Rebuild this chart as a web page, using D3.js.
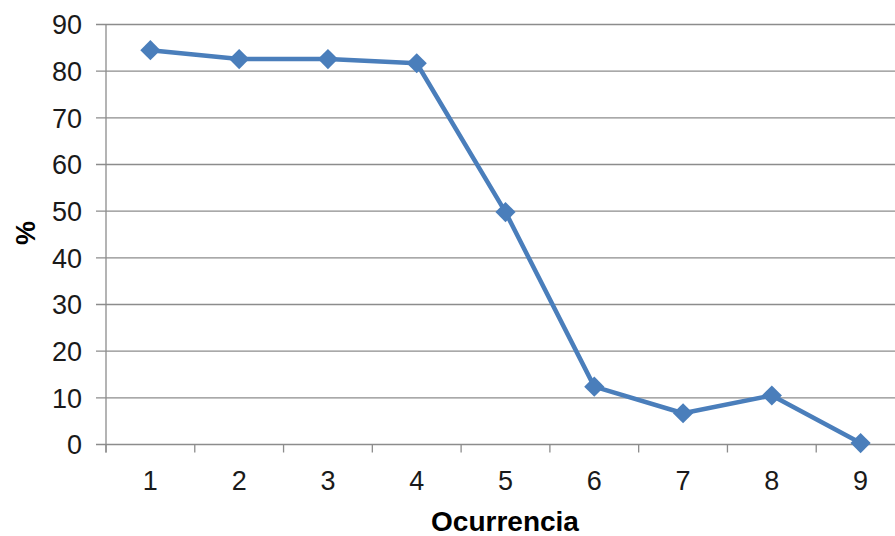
<!DOCTYPE html>
<html>
<head>
<meta charset="utf-8">
<script src="https://cdn.jsdelivr.net/npm/d3@7"></script>
<style>
  body { margin: 0; background: #fff; }
  text { font-family: "Liberation Sans", Arial, sans-serif; }
</style>
</head>
<body>
<div id="chart"></div>
<script>
const width = 895;
const height = 536;

const categories = ['1', '2', '3', '4', '5', '6', '7', '8', '9'];
const values = [84.5, 82.6, 82.6, 81.7, 49.8, 12.4, 6.7, 10.5, 0.3];
const yTicks = [0, 10, 20, 30, 40, 50, 60, 70, 80, 90];

const margin = {top: 24.5, left: 106, bottom: 91.5};
const plotRight = 905;

const svg = d3.select('#chart').append('svg')
  .attr('width', width).attr('height', height);

const x = d3.scaleBand().domain(categories).range([margin.left, plotRight]);
const y = d3.scaleLinear().domain([0, 90]).range([height - margin.bottom, margin.top]);

// gridlines + y ticks
svg.append('g')
  .selectAll('line')
  .data(yTicks)
  .enter()
  .append('line')
  .attr('x1', margin.left - 10)
  .attr('x2', plotRight)
  .attr('y1', (d) => y(d))
  .attr('y2', (d) => y(d))
  .style('stroke', '#8c8c8c')
  .style('stroke-width', '1.3px');

svg.append('g')
  .selectAll('text')
  .data(yTicks)
  .enter()
  .append('text')
  .attr('x', 82)
  .attr('y', (d) => y(d))
  .attr('dy', '0.36em')
  .attr('text-anchor', 'end')
  .style('font-size', '27px')
  .style('fill', '#1a1a1a')
  .text((d) => d);

// y axis line
svg.append('line')
  .attr('x1', margin.left).attr('x2', margin.left)
  .attr('y1', y(90)).attr('y2', y(0) + 8)
  .style('stroke', '#8c8c8c')
  .style('stroke-width', '1.3px');

// x ticks at band edges
const edges = categories.map((c) => x(c)).concat([plotRight]);
svg.append('g')
  .selectAll('line')
  .data(edges)
  .enter()
  .append('line')
  .attr('x1', (d) => d).attr('x2', (d) => d)
  .attr('y1', y(0)).attr('y2', y(0) + 8)
  .style('stroke', '#8c8c8c')
  .style('stroke-width', '1.3px');

svg.append('g')
  .selectAll('text')
  .data(categories)
  .enter()
  .append('text')
  .attr('x', (d) => x(d) + x.bandwidth() / 2)
  .attr('y', 490)
  .attr('text-anchor', 'middle')
  .style('font-size', '27px')
  .style('fill', '#1a1a1a')
  .text((d) => d);

// axis titles
svg.append('text')
  .attr('x', 505).attr('y', 531)
  .attr('text-anchor', 'middle')
  .style('font-size', '28px')
  .style('font-weight', 'bold')
  .text('Ocurrencia');

svg.append('text')
  .attr('transform', 'translate(35,233) rotate(-90)')
  .attr('text-anchor', 'middle')
  .style('font-size', '27px')
  .style('font-weight', 'bold')
  .text('%');

// line
const line = d3.line()
  .x((d, i) => x(categories[i]) + x.bandwidth() / 2)
  .y((d) => y(d));

svg.append('path')
  .datum(values)
  .attr('d', line)
  .style('fill', 'none')
  .style('stroke', '#4a7ebb')
  .style('stroke-width', '4.5px')
  .style('stroke-linejoin', 'round');

svg.append('g')
  .selectAll('path')
  .data(values)
  .enter()
  .append('path')
  .attr('d', d3.symbol().type(d3.symbolDiamond2).size(260))
  .attr('transform', (d, i) => `translate(${x(categories[i]) + x.bandwidth() / 2},${y(d)})`)
  .style('fill', '#4a7ebb');
</script>
</body>
</html>
